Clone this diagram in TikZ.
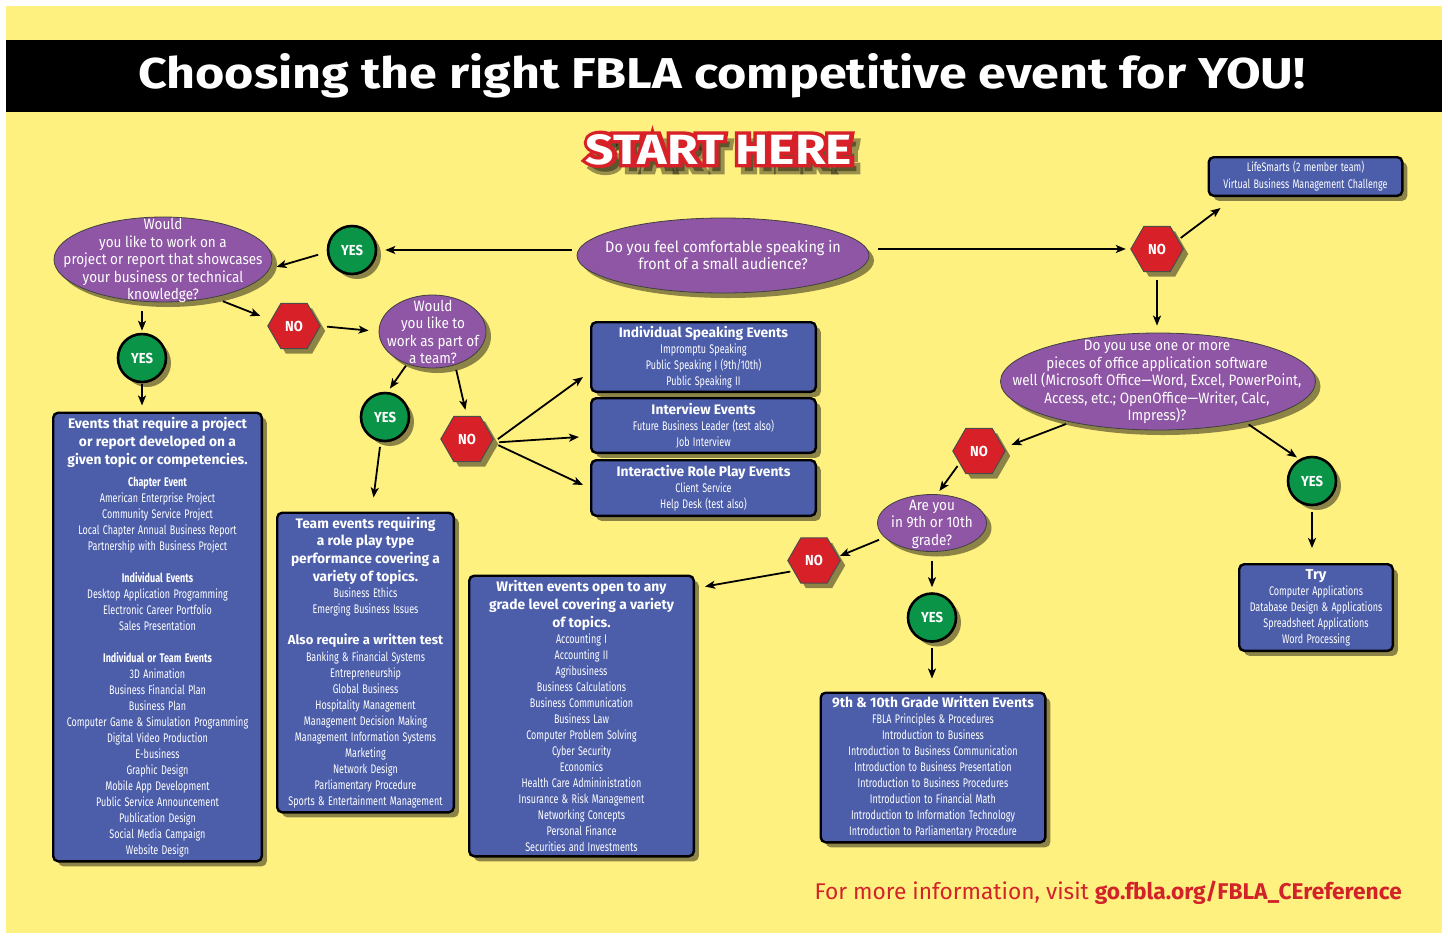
\documentclass[tikz,border=0pt]{standalone}
\usepackage{graphicx}
\usepackage{fontspec}
\setmainfont{Fira Sans}
\newfontfamily\condf[FakeStretch=0.72]{Fira Sans}
\newfontfamily\qfont[FakeStretch=0.9]{Fira Sans}
\newfontfamily\qonefont[FakeStretch=0.93]{Fira Sans}
\newfontfamily\hfont{Fira Sans}
\newfontfamily\ynfont[FakeStretch=0.9]{Fira Sans}
\newfontfamily\startA[FakeBold=16]{Fira Sans}
\usetikzlibrary{shapes.geometric,shadows,arrows.meta,backgrounds,calc}

\definecolor{bgyellow}{RGB}{255,241,128}
\definecolor{qpurple}{RGB}{142,86,164}
\definecolor{bblue}{RGB}{76,94,170}
\definecolor{ygreen}{RGB}{10,148,72}
\definecolor{nred}{RGB}{216,32,40}
\definecolor{fred}{RGB}{210,35,42}

\newcommand\FBhdr[1]{{\hfont\bfseries\fontsize{13.8}{17.8}\selectfont #1\par}}
\newcommand\FBsub[1]{{\condf\bfseries\fontsize{12.5}{16}\selectfont #1\par}}
\newcommand\FBitm[1]{{\condf\fontsize{12.5}{16}\selectfont #1\par}}
\newcommand\FBhex[1]{\filldraw[hexs] (#1.0) -- (#1.60) -- (#1.120) -- (#1.180) -- (#1.240) -- (#1.300) -- cycle;}
\newcommand\FBstart[1]{\resizebox{266pt}{30pt}{#1\bfseries START HERE}}

\begin{document}
\begin{tikzpicture}[x=1pt,y=-1pt,
  arr/.style={line width=1.8pt,-{Stealth[length=10pt,width=8pt,inset=2.5pt]}},
  shad/.style={drop shadow={shadow xshift=5pt,shadow yshift=-5pt,opacity=0.45,fill=black}},
  ques/.style={ellipse,fill=qpurple,draw=black!75,line width=0.8pt,inner sep=0pt,shad},
  qtxt/.style={text=white,align=center,inner sep=0pt,font=\qfont\fontsize{15}{17.5}\selectfont},
  yesn/.style={circle,fill=ygreen,draw=black,line width=2.6pt,minimum size=48pt,inner sep=0pt,text=white,font=\ynfont\bfseries\fontsize{14.5}{15}\selectfont,shad},
  nonode/.style={circle,minimum size=52pt,inner sep=0pt,text=white,font=\ynfont\bfseries\fontsize{14.5}{15}\selectfont},
  hexs/.style={fill=nred,draw=black!70,line width=1pt,shad},
  evbox/.style={rectangle,rounded corners=5pt,fill=bblue,draw=black,line width=2.4pt,text=white,align=center,inner sep=2pt,shad},
  stxt/.style={anchor=base,inner sep=0pt}
]
\useasboundingbox (0,0) rectangle (1448,938);
\begin{pgfonlayer}{background}
\fill[white] (0,0) rectangle (1448,938);
\fill[bgyellow] (6,6) rectangle (1442,933);
\end{pgfonlayer}
\fill[black] (6,40) rectangle (1442,112);

% title
\node[text=white,anchor=base,inner sep=0pt] (title) at (722,88)
  {\resizebox{1167pt}{35pt}{\bfseries Choosing the right FBLA competitive event for YOU!}};

% START HERE
\node[stxt,text=black,opacity=0.4] (startsh) at (725,171) {\FBstart{\startA}};
\node[stxt,text=nred] (startr) at (719,164) {\FBstart{\startA}};
\node[stxt,text=white] (start) at (719,164) {\FBstart{\hfont}};

% questions
\node[ques,minimum width=292pt,minimum height=75pt] (q1) at (723,255.5) {};
\node[qtxt,font=\qonefont\fontsize{15.5}{17}\selectfont] (q1t) at (q1) {Do you feel comfortable speaking in\\front of a small audience?};
\node[ques,minimum width=218pt,minimum height=85pt] (q2) at (163,259.5) {};
\node[qtxt] (q2t) at (163,260.5) {Would\\you like to work on a\\project or report that showcases\\your business or technical\\knowledge?};
\node[ques,minimum width=107pt,minimum height=73pt] (q3) at (432.5,331.5) {};
\node[qtxt] (q3t) at (433,332) {Would\\you like to\\work as part of\\a team?};
\node[ques,minimum width=315pt,minimum height=97pt] (q4) at (1158,381.5) {};
\node[qtxt] (q4t) at (1157,382) {Do you use one or more\\pieces of office application software\\well (Microsoft Office—Word, Excel, PowerPoint,\\Access, etc.; OpenOffice—Writer, Calc,\\Impress)?};
\node[ques,minimum width=109pt,minimum height=57pt] (q5) at (932,523) {};
\node[qtxt] (q5t) at (932,524) {Are you\\in 9th or 10th\\grade?};

% yes circles
\node[yesn] (yes1) at (352,250) {YES};
\node[yesn] (yes2) at (142,358) {YES};
\node[yesn] (yes3) at (385,417) {YES};
\node[yesn] (yes4) at (1312,481) {YES};
\node[yesn] (yes5) at (932,617.5) {YES};

% no hexagons
\node[nonode] (no1) at (1157,249) {NO};
\node[nonode] (no2) at (294,326) {NO};
\node[nonode] (no3) at (979,451) {NO};
\node[nonode] (no4) at (814,560.5) {NO};
\node[nonode] (no5) at (467,439) {NO};
\begin{pgfonlayer}{background}
\FBhex{no1}\FBhex{no2}\FBhex{no3}\FBhex{no4}\FBhex{no5}
\end{pgfonlayer}

% event boxes
\node[evbox,text width=189.6pt,minimum height=38.6pt] (ls) at (1305.5,176.5)
  {{\condf\fontsize{12.4}{17}\selectfont LifeSmarts (2 member team)\\Virtual Business Management Challenge\par}};
\node[evbox,text width=220.6pt,minimum height=69.6pt] (isp) at (703.5,357)
  {\FBhdr{Individual Speaking Events}\FBitm{Impromptu Speaking\\Public Speaking I (9th/10th)\\Public Speaking II}};
\node[evbox,text width=220.6pt,minimum height=54.6pt] (intv) at (703.5,425.5)
  {\FBhdr{Interview Events}\FBitm{Future Business Leader (test also)\\Job Interview}};
\node[evbox,text width=220.6pt,minimum height=55.6pt] (irp) at (703.5,488)
  {\FBhdr{Interactive Role Play Events}\FBitm{Client Service\\Help Desk (test also)}};
\node[evbox,text width=204.6pt,minimum height=448.6pt] (events) at (157.5,637)
  {\FBhdr{Events that require a project\\or report developed on a\\given topic or competencies.}
   \vspace{6pt}
   \FBsub{Chapter Event}
   \FBitm{American Enterprise Project\\Community Service Project\\Local Chapter Annual Business Report\\Partnership with Business Project}
   \vspace{16pt}
   \FBsub{Individual Events}
   \FBitm{Desktop Application Programming\\Electronic Career Portfolio\\Sales Presentation}
   \vspace{16pt}
   \FBsub{Individual or Team Events}
   \FBitm{3D Animation\\Business Financial Plan\\Business Plan\\Computer Game \& Simulation Programming\\Digital Video Production\\E-business\\Graphic Design\\Mobile App Development\\Public Service Announcement\\Publication Design\\Social Media Campaign\\Website Design}};
\node[evbox,text width=172.6pt,minimum height=299.6pt] (team) at (365.5,662.5)
  {\FBhdr{Team events requiring\\a role play type\\performance covering a\\variety of topics.}
   \FBitm{Business Ethics\\Emerging Business Issues}
   \vspace{15pt}
   {\hfont\bfseries\fontsize{13}{16}\selectfont Also require a written test\par}
   \vspace{1pt}
   \FBitm{Banking \& Financial Systems\\Entrepreneurship\\Global Business\\Hospitality Management\\Management Decision Making\\Management Information Systems\\Marketing\\Network Design\\Parliamentary Procedure\\Sports \& Entertainment Management}};
\node[evbox,text width=220.6pt,minimum height=280.6pt] (written) at (581.5,716)
  {\FBhdr{Written events open to any\\grade level covering a variety\\of topics.}
   \FBitm{Accounting I\\Accounting II\\Agribusiness\\Business Calculations\\Business Communication\\Business Law\\Computer Problem Solving\\Cyber Security\\Economics\\Health Care Admininistration\\Insurance \& Risk Management\\Networking Concepts\\Personal Finance\\Securities and Investments}};
\node[evbox,text width=220.6pt,minimum height=149.6pt] (ninth) at (933,767.5)
  {\FBhdr{9th \& 10th Grade Written Events}
   \FBitm{FBLA Principles \& Procedures\\Introduction to Business\\Introduction to Business Communication\\Introduction to Business Presentation\\Introduction to Business Procedures\\Introduction to Financial Math\\Introduction to Information Technology\\Introduction to Parliamentary Procedure}};
\node[evbox,text width=149.6pt,minimum height=86.6pt] (try) at (1316,607.5)
  {{\hfont\bfseries\fontsize{14.5}{16}\selectfont Try\par}
   \FBitm{Computer Applications\\Database Design \& Applications\\Spreadsheet Applications\\Word Processing}};

% connectors
\draw[arr,shorten <=5pt,shorten >=8pt] (q1.west |- yes1) -- (yes1.east);
\draw[arr,shorten <=9pt,shorten >=5pt] (q1.east |- no1) -- (no1.west);
\draw[arr] (no1.25) -- ([shift={(13,11)}]ls.south west);
\draw[arr,shorten <=5pt,shorten >=7pt] (no1.south) -- (no1.south |- q4.north);
\draw[arr,shorten <=4pt,shorten >=3pt] (q4.-25) -- (yes4.120);
\draw[arr,shorten <=6pt,shorten >=15pt] (yes4.south) -- (yes4.south |- try.north);
\draw[arr,shorten <=5pt,shorten >=7pt] (q4.205) -- (no3.8);
\draw[arr,shorten >=4pt] (no3.215) -- (q5.80);
\draw[arr,shorten <=9pt,shorten >=5pt] (q5.south) -- (yes5.north);
\draw[arr,shorten <=5pt,shorten >=13pt] (yes5.south) -- (yes5.south |- ninth.north);
\draw[arr,shorten <=6pt] (q5.197) -- (no4.10);
\draw[arr] (no4.205) -- ([shift={(10,12)}]written.north east);
\draw[arr,shorten <=9pt,shorten >=7pt] (yes1.185) -- (q2.-5);
\draw[arr,shorten <=9pt,shorten >=2pt] (yes2.north |- q2.south) -- (yes2.north);
\draw[arr,shorten <=1pt,shorten >=6pt] (yes2.south) -- (yes2.south |- events.north);
\draw[arr,shorten <=10pt,shorten >=9pt] (q2.-37) -- (no2.165);
\draw[arr,shorten <=7pt,shorten >=10pt] (no2.east) -- (q3.west);
\draw[arr,shorten <=2pt,shorten >=4pt] (q3.232) -- (yes3.84);
\draw[arr,shorten <=5pt] (yes3.-100) -- ([shift={(8,-14)}]team.north);
\draw[arr,shorten <=5pt,shorten >=3pt] (q3.-56) -- (no5.92);
\draw[arr,shorten <=6pt] (no5.-8) -- ([shift={(-7,20)}]isp.west);
\draw[arr,shorten <=6pt] (no5.-8) -- ([shift={(-11,11.5)}]intv.west);
\draw[arr,shorten <=6pt] (no5.-8) -- ([shift={(-7,-3)}]irp.west);

% footer
\node[anchor=base east,inner sep=0pt,text=fred] (foot) at (1402,899)
  {\resizebox{587pt}{!}{\fontsize{20}{24}\selectfont For more information, visit \textbf{go.fbla.org/FBLA\_CEreference}}};
\end{tikzpicture}
\end{document}
